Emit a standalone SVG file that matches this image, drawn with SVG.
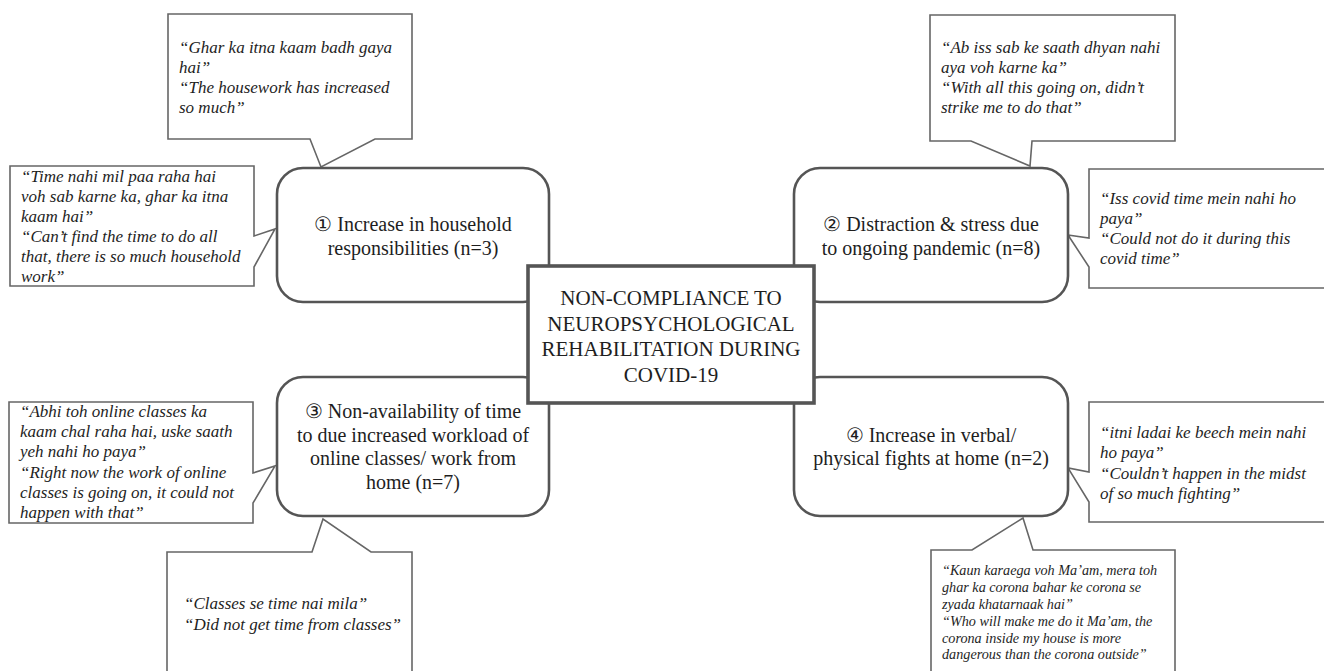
<svg xmlns="http://www.w3.org/2000/svg" width="1324" height="671" viewBox="0 0 1324 671" font-family="'Liberation Serif', 'Times New Roman', Times, 'DejaVu Serif', serif">
<style>
.bg{fill:#ffffff}
.callout{fill:#ffffff;stroke:#666666;stroke-width:1.6;stroke-linejoin:miter}
.node{fill:#ffffff;stroke:#555555;stroke-width:2.6}
.center{fill:#ffffff;stroke:#555555;stroke-width:3.6}
.q{font-family:'Liberation Serif','Times New Roman',Times,'DejaVu Serif',serif;font-style:italic;font-size:17px;fill:#1e1e1e}
.qs{font-family:'Liberation Serif','Times New Roman',Times,'DejaVu Serif',serif;font-style:italic;font-size:14.2px;fill:#1e1e1e}
.t{font-family:'Liberation Serif','Times New Roman',Times,'DejaVu Serif',serif;font-size:20px;fill:#1e1e1e;text-anchor:middle}
.c{font-family:'Liberation Serif','Times New Roman',Times,'DejaVu Serif',serif;font-size:21px;fill:#1e1e1e;text-anchor:middle}
</style>
<rect class="bg" x="0" y="0" width="1324" height="671"/>
<g id="connectors"></g>

<g id="quote-1a">
<path class="callout" d="M168,14 H412 V139 H375 L321,167 L310,139 H168 Z"/>
<text class="q"><tspan x="179" y="53">“Ghar ka itna kaam badh gaya</tspan><tspan x="179" y="73">hai”</tspan><tspan x="179" y="93">“The housework has increased</tspan><tspan x="179" y="113">so much”</tspan></text>
</g>
<g id="quote-1b">
<path class="callout" d="M10,166 H254 V236 L275,229 L254,267 V286 H10 Z"/>
<text class="q"><tspan x="21" y="182">“Time nahi mil paa raha hai</tspan><tspan x="21" y="202">voh sab karne ka, ghar ka itna</tspan><tspan x="21" y="222">kaam hai”</tspan><tspan x="21" y="242">“Can’t find the time to do all</tspan><tspan x="21" y="262">that, there is so much household</tspan><tspan x="21" y="282">work”</tspan></text>
</g>
<g id="quote-2a">
<path class="callout" d="M930,15 H1175 V141 H1032 L1030,166 L971,141 H930 Z"/>
<text class="q"><tspan x="941" y="53">“Ab iss sab ke saath dhyan nahi</tspan><tspan x="941" y="73">aya voh karne ka”</tspan><tspan x="941" y="93">“With all this going on, didn’t</tspan><tspan x="941" y="113">strike me to do that”</tspan></text>
</g>
<g id="quote-2b">
<path class="callout" d="M1089,169 H1332 V288 H1089 V267 L1068,235 L1089,238 Z"/>
<text class="q"><tspan x="1100" y="204">“Iss covid time mein nahi ho</tspan><tspan x="1100" y="224">paya”</tspan><tspan x="1100" y="244">“Could not do it during this</tspan><tspan x="1100" y="264">covid time”</tspan></text>
</g>
<g id="quote-3a">
<path class="callout" d="M9,402 H253 V473 L275,466 L253,503 V523 H9 Z"/>
<text class="q"><tspan x="20" y="417">“Abhi toh online classes ka</tspan><tspan x="20" y="437">kaam chal raha hai, uske saath</tspan><tspan x="20" y="457">yeh nahi ho paya”</tspan><tspan x="20" y="478">“Right now the work of online</tspan><tspan x="20" y="498">classes is going on, it could not</tspan><tspan x="20" y="518">happen with that”</tspan></text>
</g>
<g id="quote-3b">
<path class="callout" d="M167,552 H312 L323,519 L371,552 H412 V680 H167 Z"/>
<text class="q"><tspan x="184" y="609">“Classes se time nai mila”</tspan><tspan x="184" y="630">“Did not get time from classes”</tspan></text>
</g>
<g id="quote-4a">
<path class="callout" d="M1089,402 H1332 V522 H1089 V502 L1068,468 L1089,472 Z"/>
<text class="q"><tspan x="1100" y="438">“itni ladai ke beech mein nahi</tspan><tspan x="1100" y="458">ho paya”</tspan><tspan x="1100" y="479">“Couldn’t happen in the midst</tspan><tspan x="1100" y="499">of so much fighting”</tspan></text>
</g>
<g id="quote-4b">
<path class="callout" d="M931,550 H972 L1023,518 L1033,550 H1175 V680 H931 Z"/>
<text class="qs"><tspan x="942" y="575">“Kaun karaega voh Ma’am, mera toh</tspan><tspan x="942" y="592">ghar ka corona bahar ke corona se</tspan><tspan x="942" y="609">zyada khatarnaak hai”</tspan><tspan x="942" y="626">“Who will make me do it Ma’am, the</tspan><tspan x="942" y="643">corona inside my house is more</tspan><tspan x="942" y="659">dangerous than the corona outside”</tspan></text>
</g>

<g id="node-1">
<rect class="node" x="277" y="168" width="272" height="134" rx="26"/>
<text class="t"><tspan x="413" y="231">① Increase in household</tspan><tspan x="413" y="255">responsibilities (n=3)</tspan></text>
</g>
<g id="node-2">
<rect class="node" x="794" y="168" width="274" height="134" rx="26"/>
<text class="t"><tspan x="931" y="231">② Distraction &amp; stress due</tspan><tspan x="931" y="255">to ongoing pandemic (n=8)</tspan></text>
</g>
<g id="node-3">
<rect class="node" x="277" y="377" width="272" height="139" rx="26"/>
<text class="t"><tspan x="413" y="418">③ Non-availability of time</tspan><tspan x="413" y="442">to due increased workload of</tspan><tspan x="413" y="465">online classes/ work from</tspan><tspan x="413" y="489">home (n=7)</tspan></text>
</g>
<g id="node-4">
<rect class="node" x="794" y="377" width="274" height="139" rx="26"/>
<text class="t"><tspan x="931" y="442">④ Increase in verbal/</tspan><tspan x="931" y="465">physical fights at home (n=2)</tspan></text>
</g>
<g id="center">
<rect class="center" x="528" y="266" width="286" height="137"/>
<text class="c"><tspan x="671" y="305">NON-COMPLIANCE TO</tspan><tspan x="671" y="331">NEUROPSYCHOLOGICAL</tspan><tspan x="671" y="356">REHABILITATION DURING</tspan><tspan x="671" y="382">COVID-19</tspan></text>
</g>
</svg>
